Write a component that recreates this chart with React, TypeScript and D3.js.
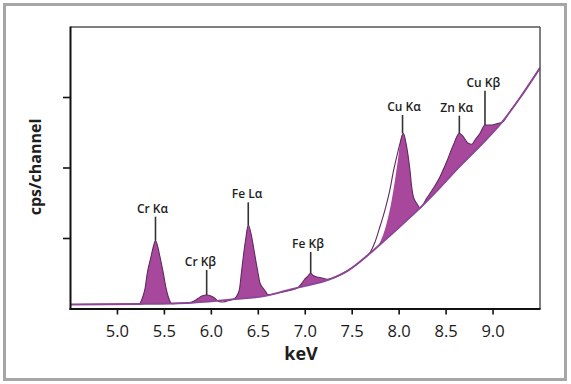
import React from 'react'
import * as d3 from 'd3'

// background continuum under the peaks, [keV, cps]
const baseline: [number, number][] = [
  [4.5, 0.064], [5.23, 0.071], [5.79, 0.089], [6.25, 0.14], [6.59, 0.19],
  [6.73, 0.235], [6.94, 0.31], [7.26, 0.42], [7.45, 0.54], [7.69, 0.79],
  [7.9, 1.04], [8.22, 1.43], [8.44, 1.73], [8.65, 2.03], [8.86, 2.31],
  [9.07, 2.61], [9.29, 3.0], [9.5, 3.42],
]

// measured spectrum outline
const spectrum: [number, number][] = [
  [4.5, 0.064], [5.23, 0.071],
  [5.269, 0.17], [5.293, 0.284], [5.318, 0.511], [5.357, 0.738], [5.384, 0.894], [5.405, 0.972],
  [5.427, 0.894], [5.453, 0.738], [5.488, 0.511], [5.517, 0.298], [5.542, 0.17], [5.581, 0.074],
  [5.72, 0.081], [5.773, 0.088], [5.815, 0.113], [5.858, 0.149], [5.9, 0.184], [5.95, 0.199],
  [5.996, 0.184], [6.039, 0.149], [6.081, 0.106], [6.124, 0.099], [6.199, 0.125],
  [6.231, 0.138], [6.263, 0.17], [6.298, 0.27], [6.321, 0.525], [6.34, 0.738], [6.369, 1.021],
  [6.393, 1.191], [6.43, 1.021], [6.454, 0.837], [6.476, 0.667], [6.497, 0.511], [6.518, 0.369],
  [6.55, 0.298], [6.582, 0.241], [6.603, 0.2], [6.731, 0.235], [6.923, 0.304],
  [6.965, 0.369], [6.997, 0.426], [7.029, 0.468], [7.058, 0.511], [7.083, 0.475], [7.125, 0.454],
  [7.178, 0.44], [7.232, 0.42], [7.296, 0.44], [7.445, 0.54], [7.637, 0.73],
  [7.69, 0.8], [7.743, 0.95], [7.796, 1.17], [7.85, 1.41], [7.903, 1.7], [7.938, 1.95],
  [7.974, 2.16], [8.009, 2.35], [8.044, 2.492], [8.08, 2.302], [8.115, 1.972], [8.133, 1.735],
  [8.151, 1.593], [8.187, 1.499], [8.222, 1.433],
  [8.293, 1.57], [8.364, 1.712], [8.435, 1.877], [8.506, 2.089], [8.577, 2.326], [8.641, 2.492],
  [8.683, 2.444], [8.736, 2.35], [8.773, 2.336], [8.808, 2.397], [8.861, 2.492], [8.914, 2.61],
  [8.986, 2.61], [9.056, 2.634], [9.095, 2.645], [9.18, 2.801], [9.287, 3.0], [9.393, 3.206],
  [9.5, 3.418],
]

// fitted peak envelope used for the shaded areas (Cu Ka left flank sits inside the outline)
const peakFill: [number, number][] = [
  ...spectrum.filter((d) => d[0] < 7.69),
  [7.69, 0.79], [7.778, 0.9], [7.867, 1.216], [7.921, 1.546], [7.956, 1.83], [7.991, 2.16],
  ...spectrum.filter((d) => d[0] >= 8.009),
]

const peakNames = ['Cr Kα', 'Cr Kβ', 'Fe Lα', 'Fe Kβ', 'Cu Kα', 'Zn Kα', 'Cu Kβ']
const peakEnergy = [5.405, 5.95, 6.393, 7.058, 8.036, 8.641, 8.914]
const peakTop = [0.972, 0.199, 1.191, 0.511, 2.492, 2.492, 2.61]
const labelEnergy = [5.373, 5.884, 6.38, 7.029, 8.052, 8.613, 8.896]
const labelLevel = [1.366, 0.61, 1.57, 0.865, 2.809, 2.799, 3.153]

const xTicks = [5.0, 5.5, 6.0, 6.5, 7.0, 7.5, 8.0, 8.5, 9.0]
const yTicks = [1, 2, 3]

const FONT = '"Open Sans", "DejaVu Sans", sans-serif'

export default function App() {
  const W = 571
  const H = 384
  const x = d3.scaleLinear().domain([4.5, 9.5]).range([70.5, 540])
  const y = d3.scaleLinear().domain([0, 4]).range([309, 27])

  const area = d3.area<[number, number]>().x((d) => x(d[0])).y0(y(0)).y1((d) => y(d[1])).curve(d3.curveMonotoneX)
  const line = d3.line<[number, number]>().x((d) => x(d[0])).y((d) => y(d[1])).curve(d3.curveMonotoneX)

  return (
    <svg width={W} height={H} style={{ position: 'absolute', left: 0, top: 0, background: '#fff' }} fontFamily={FONT}>
      <rect x={4.5} y={4.5} width={561} height={375} fill="#fff" stroke="#a6a6a6" strokeWidth={3} />

      {/* shaded peaks: fill under envelope, then blank out under the continuum */}
      <path d={area(peakFill) || ''} fill="#a8489c" />
      <path d={area(baseline) || ''} fill="#fff" />
      <path d={line(spectrum) || ''} fill="none" stroke="#5e2a60" strokeWidth={1.1} strokeLinejoin="round" />
      <path d={line(baseline) || ''} fill="none" stroke="#8d4596" strokeWidth={1.9} strokeLinejoin="round" />

      {/* frame */}
      <line x1={70.5} x2={540} y1={27} y2={27} stroke="#555" strokeWidth={1.5} />
      <line x1={540} x2={540} y1={27} y2={309} stroke="#555" strokeWidth={1.5} />
      <line x1={70.5} x2={70.5} y1={26.5} y2={310} stroke="#111" strokeWidth={2} />
      <line x1={69.5} x2={540.5} y1={309} y2={309} stroke="#111" strokeWidth={2} />

      {yTicks.map((t) => (
        <line key={t} x1={63} x2={70.5} y1={y(t)} y2={y(t)} stroke="#111" strokeWidth={1.6} />
      ))}
      {xTicks.map((t) => (
        <g key={t}>
          <line x1={x(t)} x2={x(t)} y1={309} y2={314.5} stroke="#111" strokeWidth={1.6} />
          <text x={x(t)} y={337} textAnchor="middle" fontSize={16.5} fontWeight={500} fill="#1a1a1a">
            {d3.format('.1f')(t)}
          </text>
        </g>
      ))}

      {peakNames.map((name, i) => (
        <g key={name}>
          <line
            x1={x(peakEnergy[i])} x2={x(peakEnergy[i])}
            y1={y(labelLevel[i]) + 4} y2={y(peakTop[i])}
            stroke="#333" strokeWidth={1.6}
          />
          <text x={x(labelEnergy[i])} y={y(labelLevel[i])} textAnchor="middle" fontSize={12} fontWeight={600} fill="#1e1e1e">
            {name}
          </text>
        </g>
      ))}

      <text x={301} y={360} textAnchor="middle" fontSize={18} fontWeight="bold" fill="#1e1e1e">keV</text>
      <text transform="translate(41,167) rotate(-90)" textAnchor="middle" fontSize={16} fontWeight="bold" fill="#1e1e1e">
        cps/channel
      </text>
    </svg>
  )
}
